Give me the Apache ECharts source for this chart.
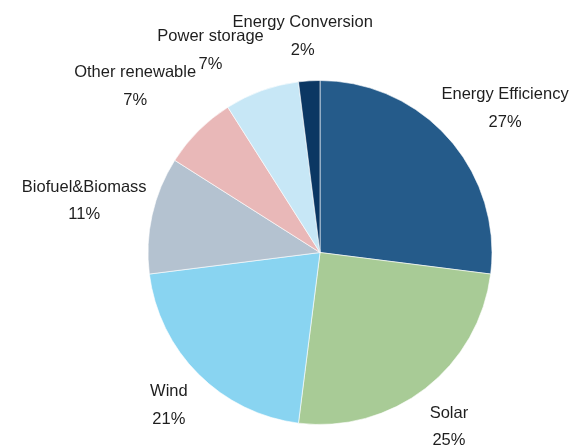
<!DOCTYPE html>
<html>
<head>
<meta charset="utf-8">
<script src="https://cdn.jsdelivr.net/npm/echarts@6/dist/echarts.min.js"></script>
<style>
  html, body { margin: 0; padding: 0; background: #fff; }
  #chart { width: 570px; height: 448px; }
</style>
</head>
<body>
<div id="chart"></div>
<script>
// Investment share by segment (%), clockwise from 12 o'clock
const categories = ['Energy Efficiency', 'Solar', 'Wind', 'Biofuel&Biomass', 'Other renewable', 'Power storage', 'Energy Conversion'];
const shares = [27, 25, 21, 11, 7, 7, 2];
const sliceColors = ['#255B8A', '#A8CB96', '#89D4F1', '#B4C2D0', '#E9B8B8', '#C7E7F6', '#0B3763'];

const CENTER = [320, 252.5];
const RADIUS = 172;
const LABEL_GAP = 18; // distance between pie edge and label box
// small hand nudges so labels land where the original (Excel-style) layout put them
const labelNudge = [[17, 4], [-5, 2], [2, 0], [12, 4], [-28, -9], [-37, -1], [-4, -4]];

// mid angle of every slice (radians, math convention)
const total = shares.reduce((a, b) => a + b, 0);
let acc = 0;
const midAngles = shares.map(v => {
  const deg = 90 - (acc + v / 2) / total * 360;
  acc += v;
  return deg * Math.PI / 180;
});

const chart = echarts.init(document.getElementById('chart'));

chart.setOption({
  animation: false,
  series: [{
    type: 'pie',
    center: CENTER,
    radius: RADIUS,
    startAngle: 90,
    clockwise: true,
    avoidLabelOverlap: false,
    data: categories.map((name, i) => ({
      name: name,
      value: shares[i],
      itemStyle: { color: sliceColors[i] }
    })),
    itemStyle: { borderColor: '#ffffff', borderWidth: 0.6 },
    label: {
      position: 'outside',
      formatter: p => p.name + '\n' + p.value + '%',
      fontFamily: '"Liberation Sans", Arial, sans-serif',
      fontSize: 16.5,
      lineHeight: 27.5,
      color: '#1e1e1e'
    },
    labelLine: { show: false },
    labelLayout: function (params) {
      const i = params.dataIndex;
      const a = midAngles[i];
      const c = Math.cos(a), s = Math.sin(a);
      const hw = params.labelRect.width / 2;
      const hh = (params.labelRect.height - 10) / 2;
      const reach = Math.min(
        Math.abs(c) > 1e-6 ? hw / Math.abs(c) : Infinity,
        Math.abs(s) > 1e-6 ? hh / Math.abs(s) : Infinity
      );
      const t = RADIUS + LABEL_GAP + reach;
      return {
        x: CENTER[0] + t * c + labelNudge[i][0],
        y: CENTER[1] - t * s + labelNudge[i][1],
        align: 'center',
        verticalAlign: 'middle'
      };
    },
    emphasis: { disabled: true }
  }]
});
</script>
</body>
</html>
